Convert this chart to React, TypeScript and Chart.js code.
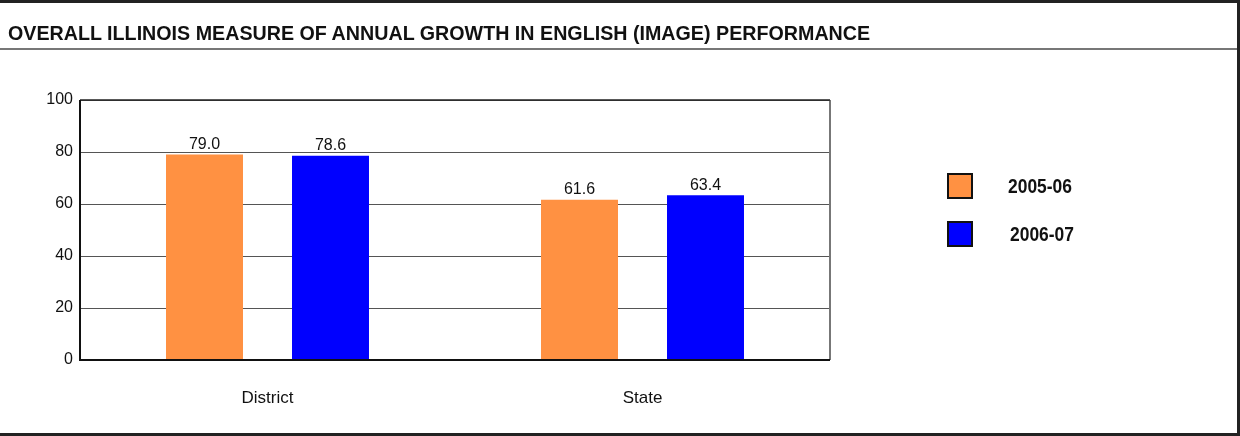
import React, { useEffect, useRef } from "react";
import { Chart, registerables } from "chart.js";

Chart.register(...registerables);

const TITLE = "OVERALL ILLINOIS MEASURE OF ANNUAL GROWTH IN ENGLISH (IMAGE) PERFORMANCE";
const categories = ["District", "State"];
const seriesNames = ["2005-06", "2006-07"];
const values2005 = [79.0, 61.6];
const values2006 = [78.6, 63.4];
const seriesColors = ["#FF9142", "#0000FF"];
const yTicks = [0, 20, 40, 60, 80, 100];

const FONT = "Arial, 'Liberation Sans', sans-serif";

const valueLabels = {
  id: "valueLabels",
  afterDatasetsDraw(chart: any) {
    const ctx = chart.ctx;
    ctx.save();
    ctx.font = `16px ${FONT}`;
    ctx.fillStyle = "#111";
    ctx.textAlign = "center";
    ctx.textBaseline = "bottom";
    chart.data.datasets.forEach((ds: any, i: number) => {
      const meta = chart.getDatasetMeta(i);
      meta.data.forEach((el: any, j: number) => {
        ctx.fillText(Number(ds.data[j]).toFixed(1), el.x, el.y - 2);
      });
    });
    ctx.restore();
  },
};

const sideLegend = {
  id: "sideLegend",
  afterDraw(chart: any) {
    const ctx = chart.ctx;
    const boxX = 947;
    const rows = [173, 221];
    const textX = [1008, 1010];
    chart.data.datasets.forEach((ds: any, i: number) => {
      const y = rows[i];
      ctx.save();
      ctx.fillStyle = ds.backgroundColor;
      ctx.fillRect(boxX, y, 25, 25);
      ctx.lineWidth = 2;
      ctx.strokeStyle = "#111";
      ctx.strokeRect(boxX + 1, y + 1, 24, 24);
      ctx.translate(textX[i], y + 14);
      ctx.scale(0.83, 1);
      ctx.fillStyle = "#111";
      ctx.font = `bold 21px ${FONT}`;
      ctx.textAlign = "left";
      ctx.textBaseline = "middle";
      ctx.fillText(ds.label, 0, 0);
      ctx.restore();
    });
  },
};

const frame = {
  id: "frame",
  afterDraw(chart: any) {
    const { ctx, chartArea } = chart;
    ctx.save();
    ctx.strokeStyle = "#777";
    ctx.lineWidth = 2;
    ctx.beginPath();
    ctx.moveTo(chartArea.right, chartArea.top);
    ctx.lineTo(chartArea.right, chartArea.bottom);
    ctx.stroke();
    ctx.strokeStyle = "#222";
    ctx.lineWidth = 1.5;
    ctx.beginPath();
    ctx.moveTo(chartArea.left, chartArea.top);
    ctx.lineTo(chartArea.right, chartArea.top);
    ctx.stroke();
    ctx.strokeStyle = "#111";
    ctx.lineWidth = 2;
    ctx.beginPath();
    ctx.moveTo(chartArea.left, chartArea.top);
    ctx.lineTo(chartArea.left, chartArea.bottom);
    ctx.lineTo(chartArea.right, chartArea.bottom);
    ctx.stroke();
    ctx.restore();
  },
};

export default function App() {
  const ref = useRef<HTMLCanvasElement | null>(null);

  useEffect(() => {
    if (!ref.current) return;
    const chart = new Chart(ref.current, {
      type: "bar",
      data: {
        labels: categories,
        datasets: [
          { label: seriesNames[0], data: values2005, backgroundColor: seriesColors[0], borderWidth: 0 },
          { label: seriesNames[1], data: values2006, backgroundColor: seriesColors[1], borderWidth: 0 },
        ],
      },
      options: {
        animation: false,
        responsive: false,
        devicePixelRatio: 1,
        layout: { padding: { top: 100, right: 410, bottom: 0, left: 0 } },
        datasets: { bar: { categoryPercentage: 0.672, barPercentage: 0.611 } },
        plugins: {
          legend: { display: false },
          tooltip: { enabled: false },
          title: { display: false },
        },
        scales: {
          x: {
            grid: { display: false, drawTicks: false },
            border: { display: false },
            ticks: { color: "#111", font: { size: 17, family: FONT }, padding: 28 },
            afterFit(scale: any) {
              scale.height = 76;
            },
          },
          y: {
            min: 0,
            max: 100,
            afterBuildTicks(scale: any) {
              scale.ticks = yTicks.map((v) => ({ value: v }));
            },
            grid: { color: "#555", lineWidth: 1, drawTicks: false },
            border: { display: false },
            ticks: { color: "#111", font: { size: 16, family: FONT }, padding: 7 },
            afterFit(scale: any) {
              scale.width = 80;
            },
          },
        },
      },
      plugins: [valueLabels, sideLegend, frame],
    });
    return () => chart.destroy();
  }, []);

  return (
    <div
      style={{
        position: "absolute",
        left: 0,
        top: 0,
        width: 1240,
        height: 436,
        background: "#fff",
        boxSizing: "border-box",
        borderTop: "3px solid #222",
        borderRight: "3px solid #222",
        borderBottom: "3px solid #222",
        overflow: "hidden",
      }}
    >
      <div
        style={{
          position: "absolute",
          left: 0,
          top: 0,
          width: 1237,
          height: 47,
          borderBottom: "2px solid #777",
          fontFamily: FONT,
          fontWeight: "bold",
          fontSize: 21,
          color: "#111",
          lineHeight: "60px",
          paddingLeft: 8,
          boxSizing: "border-box",
          whiteSpace: "nowrap",
          zIndex: 2,
        }}
      >
        <span
          style={{
            display: "inline-block",
            transform: "scaleX(0.937)",
            transformOrigin: "left center",
          }}
        >
          {TITLE}
        </span>
      </div>
      <canvas
        ref={ref}
        width={1240}
        height={436}
        style={{ position: "absolute", left: 0, top: -3, width: 1240, height: 436 }}
      />
    </div>
  );
}
